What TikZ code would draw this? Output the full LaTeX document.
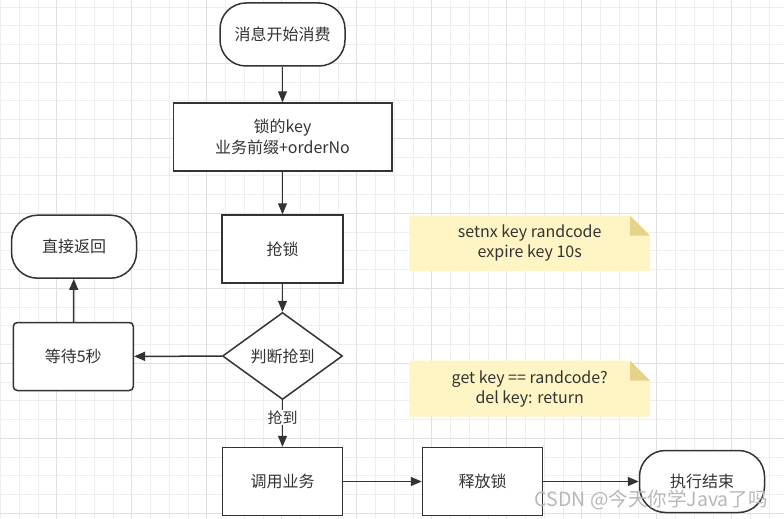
\documentclass[tikz,border=0pt]{standalone}
\usepackage{fontspec}
\setmainfont{Noto Sans CJK SC}
\usetikzlibrary{shapes.geometric,arrows.meta}
\definecolor{ink}{HTML}{333333}
\definecolor{txt}{HTML}{333333}
\definecolor{gridminor}{HTML}{EEEEEE}
\definecolor{gridmajor}{HTML}{E0E0E0}
\definecolor{notefill}{HTML}{FFF4C3}
\definecolor{notefold}{HTML}{E6D38A}
\definecolor{wm}{HTML}{B8B8B8}
\tikzset{
  base/.style={draw=ink, line width=1.5pt, text=txt, font=\fontsize{16}{21}\selectfont, align=center, inner sep=0pt, fill=white},
  procbox/.style={base, rectangle, minimum width=120pt, minimum height=68pt},
  waitbox/.style={base, rectangle, rounded corners=4pt, minimum width=120pt, minimum height=68pt},
  termbox/.style={base, rectangle, rounded corners=26pt, minimum width=125pt, minimum height=63pt},
  decision/.style={base, diamond, minimum width=120pt, minimum height=87pt, aspect=1.38},
  notetext/.style={text=txt, font=\fontsize{16}{20}\selectfont, align=center, inner sep=0pt},
  flow/.style={draw=ink, line width=1.5pt, -{Triangle[length=11pt,width=9pt]}},
}
\begin{document}
\begin{tikzpicture}[x=1pt,y=-1pt]
\useasboundingbox (0,0) rectangle (784,519);
\fill[white] (0,0) rectangle (784,519);
% grid
\foreach \i in {0,...,41} \draw[gridminor, line width=0.8pt] ({0.45+18.75*\i},0) -- ({0.45+18.75*\i},519);
\foreach \i in {0,...,28} \draw[gridminor, line width=0.8pt] (0,{7.05+18.75*\i}) -- (784,{7.05+18.75*\i});
\foreach \i in {0,...,10} \draw[gridmajor, line width=1pt] ({56.7+75*\i},0) -- ({56.7+75*\i},519);
\foreach \i in {0,...,6} \draw[gridmajor, line width=1pt] (0,{63.3+75*\i}) -- (784,{63.3+75*\i});

% notes (shapes)
\fill[notefill] (409.3,215.7) -- (630,215.7) -- (650,235.7) -- (650,271) -- (409.3,271) -- cycle;
\fill[notefold] (630,215.7) -- (650,235.7) -- (630,235.7) -- cycle;
\fill[notefill] (409.3,360.7) -- (630,360.7) -- (650,380.7) -- (650,416.7) -- (409.3,416.7) -- cycle;
\fill[notefold] (630,360.7) -- (650,380.7) -- (630,380.7) -- cycle;
\node[notetext] (note1) at (529.7,243.3) {setnx key randcode\\expire key 10s};
\node[notetext] (note2) at (529.7,388.7) {get key == randcode?\\del key: return};

% nodes
\node[termbox] (start) at (282.5,34.5) {消息开始消费};
\node[procbox, minimum width=218.5pt] (key) at (282.5,137) {锁的key\\业务前缀+orderNo};
\node[procbox, minimum width=121pt] (lock) at (282.5,249) {抢锁};
\node[decision] (judge) at (282.5,356) {判断抢到};
\node[waitbox] (wait) at (73.3,356.5) {等待5秒};
\node[termbox] (ret) at (74,246.7) {直接返回};
\node[procbox] (call) at (282.5,481.5) {调用业务};
\node[procbox] (release) at (482.5,481.5) {释放锁};
\node[termbox, minimum height=62pt] (end) at (702,481.5) {执行结束};

% connectors
\draw[flow] (start) -- (key);
\draw[flow] (key) -- (lock);
\draw[flow] (lock) -- (judge);
\draw[flow] (judge) -- (wait);
\draw[flow] (wait) -- (ret);
\draw[flow] (judge) -- node[pos=0.37, fill=white, text=txt, font=\fontsize{15}{18}\selectfont, inner sep=1pt] (got) {抢到} (call);
\draw[flow] (call) -- (release);
\draw[flow] (release) -- (end);

% watermark
\node[anchor=east, text=wm, font=\fontsize{19.5}{22}\selectfont, inner sep=0pt] (wmark) at (768,500) {CSDN @今天你学Java了吗};
\end{tikzpicture}
\end{document}
